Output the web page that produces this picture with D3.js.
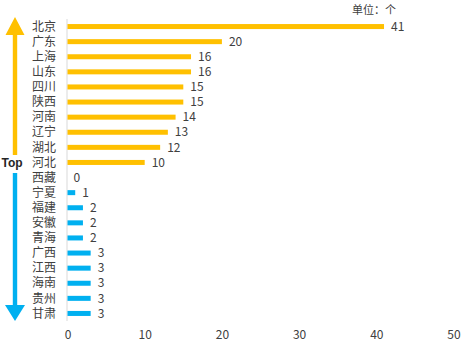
<!DOCTYPE html>
<html><head><meta charset="utf-8">
<script src="https://cdn.jsdelivr.net/npm/d3@7"></script>
<style>body{margin:0;background:#fff}svg{display:block}text{font-family:"Microsoft YaHei","Noto Sans CJK SC",sans-serif}</style>
</head><body><svg id="c" width="469" height="347"></svg>
<script>
const provinces = ["北京","广东","上海","山东","四川","陕西","河南","辽宁","湖北","河北","西藏","宁夏","福建","安徽","青海","广西","江西","海南","贵州","甘肃"];
const values = [41,20,16,16,15,15,14,13,12,10,0,1,2,2,2,3,3,3,3,3];
const groups = ["top","top","top","top","top","top","top","top","top","top","bottom","bottom","bottom","bottom","bottom","bottom","bottom","bottom","bottom","bottom"];
const xTicks = [0,10,20,30,40,50];
const unitLabel = "单位：个";
const topLabel = "Top";

const gold = "#FFC000", blue = "#00B0F0", txt = "#404040";
const svg = d3.select("#c");
const x = d3.scaleLinear().domain([0,50]).range([67.5,453.5]);
const y = d3.scaleBand().domain(provinces).range([19,321]).paddingInner(0.66).paddingOuter(0.33);

// axis line
svg.append("line").attr("x1",67).attr("x2",67).attr("y1",19).attr("y2",321).attr("stroke","#d9d9d9").attr("stroke-width",1);

svg.selectAll("rect.bar").data(provinces).enter().append("rect")
  .attr("x",x(0)).attr("y",(d)=>y(d)+y.bandwidth()/2-2.5)
  .attr("width",(d,i)=>x(values[i])-x(0)).attr("height",5)
  .attr("fill",(d,i)=>groups[i]==="top"?gold:blue);

svg.selectAll("text.val").data(provinces).enter().append("text")
  .attr("x",(d,i)=>x(values[i])+ (values[i]===0?6:7)).attr("y",(d)=>y(d)+y.bandwidth()/2)
  .attr("dy","0.35em").attr("font-size",12).attr("fill",txt).text((d,i)=>values[i]);

svg.selectAll("text.cat").data(provinces).enter().append("text")
  .attr("x",56).attr("y",(d)=>y(d)+y.bandwidth()/2)
  .attr("dy","0.35em").attr("text-anchor","end").attr("font-size",12).attr("fill",txt).text(d=>d);

const xAxis = d3.axisBottom(x).tickValues(xTicks).tickSize(0).tickPadding(0);
const ga = svg.append("g").attr("transform","translate(0,330)").call(xAxis);
ga.select(".domain").remove();
ga.selectAll("text").attr("font-size",12).attr("fill",txt).attr("dy","0.35em").attr("y",5)
  .style("font-family",'"Microsoft YaHei","Noto Sans CJK SC",sans-serif');

svg.append("text").attr("x",352).attr("y",10).attr("dy","0.35em").attr("font-size",11).attr("fill",txt).text(unitLabel);

// arrows
svg.append("path").attr("d","M15,17 L24.5,35 L17.2,35 L17.2,155 L12.8,155 L12.8,35 L5.5,35 Z").attr("fill",gold);
svg.append("path").attr("d","M12.8,173 L17.2,173 L17.2,305 L25,305 L15,321 L5,305 L12.8,305 Z").attr("fill",blue);
svg.append("text").attr("x",12).attr("y",163).attr("dy","0.35em").attr("text-anchor","middle")
  .attr("font-size",12).attr("font-weight","bold").attr("fill","#262626").style("font-family","Arial,'Liberation Sans',sans-serif").text(topLabel);
</script></body></html>
